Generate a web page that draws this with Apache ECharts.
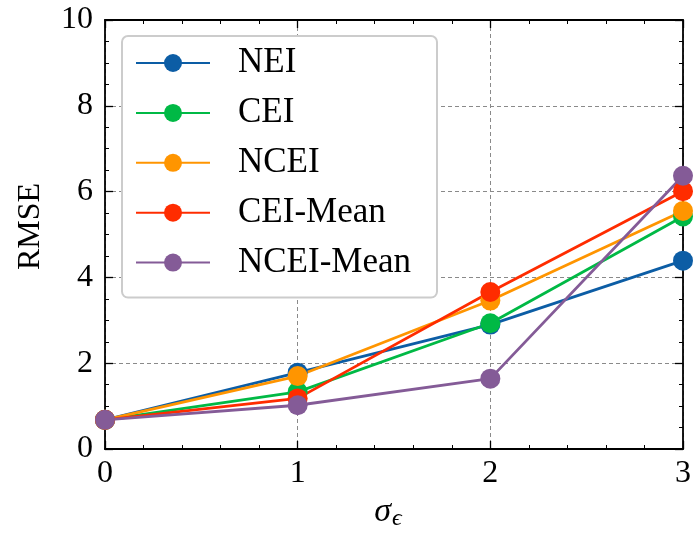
<!DOCTYPE html>
<html>
<head>
<meta charset="utf-8">
<script src="https://cdn.jsdelivr.net/npm/echarts@6/dist/echarts.min.js"></script>
<style>
  html, body { margin: 0; padding: 0; background: #fff; }
  #chart { width: 694px; height: 536px; }
</style>
</head>
<body>
<div id="chart"></div>
<script>
// Noise level on the x axis
const sigmaLevels = [0, 1, 2, 3];

// RMSE per method
const nei       = [0.68, 1.78, 2.90, 4.39];
const cei       = [0.68, 1.33, 2.93, 5.42];
const ncei      = [0.68, 1.70, 3.46, 5.55];
const ceiMean   = [0.68, 1.18, 3.66, 6.01];
const nceiMean  = [0.68, 1.02, 1.64, 6.37];

const seriesNames = ['NEI', 'CEI', 'NCEI', 'CEI-Mean', 'NCEI-Mean'];
const seriesValues = [nei, cei, ncei, ceiMean, nceiMean];
const seriesColors = ['#0C5DA5', '#00B945', '#FF9500', '#FF2C00', '#845B97'];

const serif = 'Liberation Serif';

function pairs(values) {
  return sigmaLevels.map((x, i) => [x, values[i]]);
}

const tickStyle = { show: true, inside: true, length: 8, lineStyle: { color: '#000', width: 1.3 } };
const minorTickStyle = { show: true, inside: true, length: 4, lineStyle: { color: '#000', width: 1 } };
const axisLineStyle = { show: true, onZero: false, lineStyle: { color: '#000', width: 1.8 } };
const gridLineStyle = { show: true, lineStyle: { color: '#8a8a8a', width: 1, type: [4, 3] } };

const chart = echarts.init(document.getElementById('chart'), null, { renderer: 'canvas' });

chart.setOption({
  animation: false,
  backgroundColor: '#fff',
  grid: { left: 105, right: 11, top: 20, bottom: 87, containLabel: false },
  legend: {
    orient: 'vertical',
    left: 122,
    top: 36,
    data: seriesNames,
    itemWidth: 74,
    itemHeight: 22.5,
    itemGap: 13.9,
    padding: [9, 26, 17, 13],
    backgroundColor: '#fff',
    borderColor: '#cccccc',
    borderWidth: 2,
    borderRadius: 6,
    textStyle: {
      fontFamily: serif,
      fontSize: 35,
      lineHeight: 36,
      color: '#000',
      padding: [0, 0, 0, 23]
    }
  },
  xAxis: [
    {
      type: 'value', min: 0, max: 3, interval: 1,
      name: '{a|σ}{b|ϵ}',
      nameLocation: 'middle',
      nameGap: 44,
      nameTextStyle: {
        padding: [0, 12, 0, 0],
        rich: {
          a: { fontFamily: serif, fontStyle: 'italic', fontSize: 34, color: '#000' },
          b: { fontFamily: serif, fontStyle: 'italic', fontSize: 24, color: '#000', padding: [14, 0, 0, 1] }
        }
      },
      axisLine: axisLineStyle,
      axisTick: tickStyle,
      minorTick: Object.assign({ splitNumber: 5 }, minorTickStyle),
      axisLabel: { fontFamily: serif, fontSize: 32, color: '#000', margin: 9 },
      splitLine: gridLineStyle
    },
    {
      type: 'value', min: 0, max: 3, interval: 1, position: 'top',
      axisLine: axisLineStyle,
      axisTick: tickStyle,
      minorTick: Object.assign({ splitNumber: 5 }, minorTickStyle),
      axisLabel: { show: false },
      splitLine: { show: false }
    }
  ],
  yAxis: [
    {
      type: 'value', min: 0, max: 10, interval: 2,
      name: 'RMSE',
      nameLocation: 'middle',
      nameRotate: 90,
      nameGap: 58,
      nameTextStyle: { fontFamily: serif, fontSize: 32, color: '#000', padding: [0, 0, 0, 16] },
      axisLine: axisLineStyle,
      axisTick: tickStyle,
      minorTick: Object.assign({ splitNumber: 4 }, minorTickStyle),
      axisLabel: { fontFamily: serif, fontSize: 32, color: '#000', margin: 12 },
      splitLine: gridLineStyle
    },
    {
      type: 'value', min: 0, max: 10, interval: 2, position: 'right',
      axisLine: axisLineStyle,
      axisTick: tickStyle,
      minorTick: Object.assign({ splitNumber: 4 }, minorTickStyle),
      axisLabel: { show: false },
      splitLine: { show: false }
    }
  ],
  series: seriesNames.map((name, i) => ({
    name: name,
    type: 'line',
    xAxisIndex: 0,
    yAxisIndex: 0,
    data: pairs(seriesValues[i]),
    symbol: 'circle',
    symbolSize: 20,
    showSymbol: true,
    clip: false,
    color: seriesColors[i],
    itemStyle: { color: seriesColors[i] },
    lineStyle: { color: seriesColors[i], width: 2.8 },
    emphasis: { disabled: true }
  }))
});
</script>
</body>
</html>
